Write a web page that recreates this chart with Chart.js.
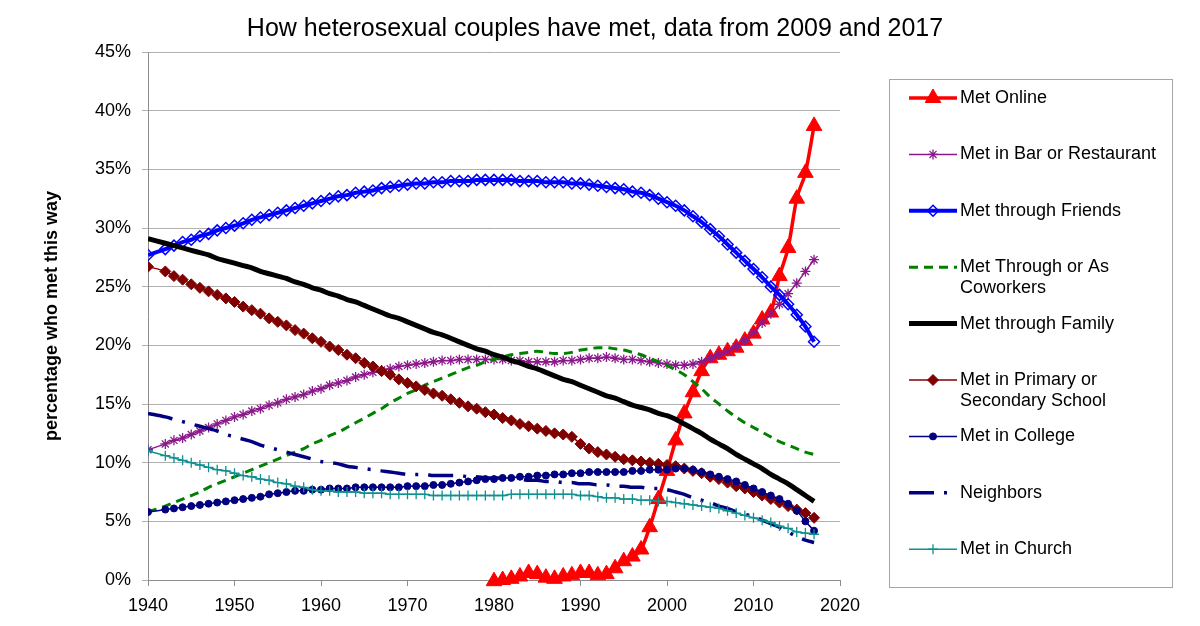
<!DOCTYPE html>
<html>
<head>
<meta charset="utf-8">
<title>How heterosexual couples have met</title>
<script src="https://cdn.jsdelivr.net/npm/chart.js@4.4.1/dist/chart.umd.min.js"></script>
<style>
    html, body { margin: 0; padding: 0; background: #ffffff; }
    #chartBox { width: 1200px; height: 626px; }
</style>
</head>
<body>
<div id="chartBox">
    <canvas id="metChart" width="1200" height="626"></canvas>
</div>
<script>
// Years of the survey curves (1941 is missing in the source)
const years = [1940,
    1942, 1943, 1944, 1945, 1946, 1947, 1948, 1949, 1950,
    1951, 1952, 1953, 1954, 1955, 1956, 1957, 1958, 1959, 1960,
    1961, 1962, 1963, 1964, 1965, 1966, 1967, 1968, 1969, 1970,
    1971, 1972, 1973, 1974, 1975, 1976, 1977, 1978, 1979, 1980,
    1981, 1982, 1983, 1984, 1985, 1986, 1987, 1988, 1989, 1990,
    1991, 1992, 1993, 1994, 1995, 1996, 1997, 1998, 1999, 2000,
    2001, 2002, 2003, 2004, 2005, 2006, 2007, 2008, 2009, 2010,
    2011, 2012, 2013, 2014, 2015, 2016, 2017];

// Met Online only starts in 1980
const onlineYears = years.filter(y => y >= 1980);

const metOnline = [-0.1,
    0.0, 0.1, 0.3, 0.6, 0.5, 0.2, 0.1, 0.3, 0.4, 0.6,
    0.6, 0.4, 0.5, 1.0, 1.6, 2.0, 2.6, 4.5, 6.9, 9.3,
    11.9, 14.2, 16.0, 17.8, 18.9, 19.2, 19.5, 19.8, 20.4, 21.0,
    22.2, 22.8, 25.9, 28.3, 32.5, 34.7, 38.7];

const metBar = [11.1,
    11.6, 11.9, 12.1, 12.4, 12.7, 13.0, 13.3, 13.6, 13.9,
    14.1, 14.4, 14.6, 14.9, 15.1, 15.4, 15.6, 15.8, 16.1, 16.3,
    16.6, 16.8, 17.0, 17.3, 17.5, 17.7, 17.9, 18.0, 18.2, 18.3,
    18.4, 18.5, 18.6, 18.7, 18.7, 18.8, 18.8, 18.8, 18.8, 18.8,
    18.8, 18.7, 18.7, 18.6, 18.6, 18.6, 18.6, 18.7, 18.7, 18.8,
    18.9, 18.9, 19.0, 18.9, 18.8, 18.8, 18.7, 18.6, 18.5, 18.4,
    18.3, 18.3, 18.4, 18.6, 18.9, 19.2, 19.5, 19.9, 20.4, 21.1,
    21.9, 22.7, 23.5, 24.4, 25.3, 26.3, 27.3];

const metFriends = [27.7,
    28.2, 28.5, 28.8, 29.0, 29.3, 29.5, 29.8, 30.0, 30.2,
    30.4, 30.7, 30.9, 31.1, 31.3, 31.5, 31.7, 31.9, 32.1, 32.3,
    32.5, 32.7, 32.8, 33.0, 33.1, 33.2, 33.4, 33.5, 33.6, 33.7,
    33.8, 33.8, 33.9, 33.9, 34.0, 34.0, 34.0, 34.1, 34.1, 34.1,
    34.1, 34.1, 34.0, 34.0, 34.0, 33.9, 33.9, 33.9, 33.8, 33.8,
    33.7, 33.6, 33.5, 33.4, 33.3, 33.1, 33.0, 32.8, 32.5, 32.2,
    31.9, 31.5, 31.0, 30.5, 29.9, 29.3, 28.6, 27.9, 27.2, 26.5,
    25.8, 25.0, 24.3, 23.5, 22.6, 21.6, 20.3];

const metCoworkers = [5.8,
    6.3, 6.6, 6.9, 7.2, 7.5, 7.9, 8.2, 8.5, 8.8,
    9.1, 9.4, 9.7, 10.0, 10.3, 10.6, 10.9, 11.2, 11.6, 11.9,
    12.3, 12.6, 13.0, 13.4, 13.8, 14.2, 14.6, 15.1, 15.5, 15.9,
    16.2, 16.6, 16.9, 17.2, 17.5, 17.8, 18.1, 18.3, 18.6, 18.8,
    19.0, 19.2, 19.3, 19.4, 19.5, 19.4, 19.3, 19.3, 19.4, 19.6,
    19.7, 19.8, 19.8, 19.7, 19.6, 19.4, 19.2, 18.9, 18.6, 18.3,
    17.9, 17.5, 16.9, 16.3, 15.6, 15.0, 14.4, 13.9, 13.4, 13.0,
    12.6, 12.2, 11.8, 11.5, 11.2, 10.9, 10.7];

const metFamily = [29.1,
    28.7, 28.5, 28.3, 28.1, 27.9, 27.7, 27.4, 27.2, 27.0,
    26.8, 26.6, 26.3, 26.1, 25.9, 25.7, 25.4, 25.2, 24.9, 24.7,
    24.4, 24.2, 23.9, 23.7, 23.4, 23.1, 22.8, 22.5, 22.3, 22.0,
    21.7, 21.4, 21.1, 20.9, 20.6, 20.3, 20.0, 19.7, 19.5, 19.2,
    19.0, 18.7, 18.5, 18.2, 18.0, 17.7, 17.4, 17.1, 16.9, 16.6,
    16.3, 16.0, 15.7, 15.5, 15.2, 14.9, 14.7, 14.5, 14.2, 14.0,
    13.7, 13.3, 12.9, 12.5, 12.0, 11.6, 11.2, 10.7, 10.3, 9.9,
    9.5, 9.0, 8.6, 8.2, 7.7, 7.2, 6.7];

const metSchool = [26.7,
    26.3, 25.9, 25.6, 25.2, 24.9, 24.6, 24.3, 24.0, 23.7,
    23.3, 23.0, 22.7, 22.3, 22.0, 21.7, 21.3, 21.0, 20.6, 20.3,
    19.9, 19.6, 19.2, 18.9, 18.5, 18.2, 17.8, 17.5, 17.1, 16.8,
    16.5, 16.2, 15.9, 15.7, 15.4, 15.1, 14.8, 14.6, 14.3, 14.1,
    13.8, 13.6, 13.3, 13.1, 12.9, 12.7, 12.5, 12.4, 12.2, 11.6,
    11.2, 10.9, 10.7, 10.5, 10.3, 10.2, 10.1, 10.0, 9.9, 9.8,
    9.7, 9.5, 9.3, 9.1, 8.8, 8.6, 8.3, 8.0, 7.8, 7.5,
    7.2, 6.9, 6.6, 6.3, 6.0, 5.7, 5.3];

const metCollege = [5.8,
    6.0, 6.1, 6.2, 6.3, 6.4, 6.5, 6.6, 6.7, 6.8,
    6.9, 7.0, 7.1, 7.3, 7.4, 7.5, 7.6, 7.6, 7.7, 7.7,
    7.8, 7.8, 7.8, 7.9, 7.9, 7.9, 7.9, 7.9, 7.9, 8.0,
    8.0, 8.0, 8.1, 8.1, 8.2, 8.3, 8.4, 8.5, 8.6, 8.6,
    8.7, 8.7, 8.8, 8.8, 8.9, 8.9, 9.0, 9.0, 9.1, 9.1,
    9.2, 9.2, 9.2, 9.2, 9.2, 9.3, 9.3, 9.4, 9.4, 9.4,
    9.5, 9.5, 9.4, 9.2, 9.0, 8.8, 8.6, 8.4, 8.1, 7.8,
    7.5, 7.2, 6.9, 6.5, 5.9, 5.0, 4.2];

const metNeighbors = [14.2,
    13.9, 13.7, 13.5, 13.3, 13.1, 12.9, 12.7, 12.4, 12.2,
    12.0, 11.8, 11.5, 11.3, 11.1, 10.9, 10.7, 10.5, 10.3, 10.1,
    10.0, 9.9, 9.7, 9.6, 9.5, 9.4, 9.3, 9.2, 9.1, 9.0,
    9.0, 9.0, 8.9, 8.9, 8.9, 8.9, 8.8, 8.8, 8.7, 8.7,
    8.7, 8.6, 8.6, 8.5, 8.5, 8.4, 8.4, 8.3, 8.3, 8.2,
    8.2, 8.1, 8.1, 8.0, 8.0, 7.9, 7.9, 7.8, 7.8, 7.7,
    7.5, 7.3, 7.0, 6.8, 6.6, 6.3, 6.1, 5.8, 5.6, 5.4,
    5.1, 4.8, 4.5, 4.1, 3.7, 3.4, 3.2];

const metChurch = [11.0,
    10.6, 10.4, 10.2, 10.0, 9.8, 9.6, 9.4, 9.3, 9.1,
    8.9, 8.8, 8.6, 8.5, 8.3, 8.2, 8.0, 7.9, 7.7, 7.6,
    7.6, 7.5, 7.5, 7.5, 7.4, 7.4, 7.4, 7.3, 7.3, 7.3,
    7.3, 7.3, 7.2, 7.2, 7.2, 7.2, 7.2, 7.2, 7.2, 7.2,
    7.2, 7.3, 7.3, 7.3, 7.3, 7.3, 7.3, 7.3, 7.3, 7.2,
    7.2, 7.1, 7.0, 7.0, 6.9, 6.9, 6.8, 6.8, 6.7, 6.7,
    6.6, 6.5, 6.4, 6.3, 6.2, 6.1, 5.9, 5.7, 5.5, 5.3,
    5.1, 4.9, 4.6, 4.4, 4.1, 4.0, 3.9];

// Axis ticks
const xTicks = [1940, 1950, 1960, 1970, 1980, 1990, 2000, 2010, 2020];
const yTicks = [0, 5, 10, 15, 20, 25, 30, 35, 40, 45];

const chartTitle = 'How heterosexual couples have met, data from 2009 and 2017';

const FONT = "'Liberation Sans', Arial, Helvetica, sans-serif";

// Turn two arrays into {x, y} points for the linear x axis
function toPoints(xs, ys) {
    return xs.map((x, i) => ({ x: x, y: ys[i] }));
}

// Title centred over the whole picture (chart + legend)
const wideTitle = {
    id: 'wideTitle',
    afterDraw(chart) {
        const ctx = chart.ctx;
        ctx.save();
        ctx.font = '25px ' + FONT;
        ctx.fillStyle = '#000000';
        ctx.textAlign = 'center';
        ctx.textBaseline = 'alphabetic';
        ctx.fillText(chartTitle, 595, 36);
        ctx.restore();
    }
};

// Legend drawn inside a grey box on the right, like the original
const boxLegend = {
    id: 'boxLegend',
    afterDraw(chart) {
        const ctx = chart.ctx;
        ctx.save();
        ctx.strokeStyle = '#a6a6a6';
        ctx.lineWidth = 1;
        ctx.strokeRect(889.5, 79.5, 283, 508);

        ctx.font = '18px ' + FONT;
        ctx.textBaseline = 'middle';
        ctx.textAlign = 'left';

        chart.data.datasets.forEach((ds, i) => {
            const y = 98 + i * 56.4;

            // line sample
            ctx.save();
            ctx.strokeStyle = ds.borderColor;
            ctx.lineWidth = ds.borderWidth;
            ctx.lineCap = 'butt';
            ctx.setLineDash(ds.borderDash || []);
            ctx.beginPath();
            ctx.moveTo(909, y);
            ctx.lineTo(957, y);
            ctx.stroke();
            ctx.restore();

            // marker
            if (ds.pointRadius > 0) {
                ctx.save();
                ctx.fillStyle = ds.pointBackgroundColor;
                ctx.strokeStyle = ds.pointBorderColor;
                ctx.lineWidth = ds.pointBorderWidth;
                Chart.helpers.drawPoint(ctx, {
                    pointStyle: ds.pointStyle,
                    radius: ds.pointRadius,
                    borderWidth: ds.pointBorderWidth,
                    rotation: 0
                }, 933, y);
                ctx.restore();
            }

            // label, wrapped to the box width
            ctx.fillStyle = '#000000';
            const words = ds.label.split(' ');
            const lines = [];
            let line = '';
            words.forEach(w => {
                const test = line ? line + ' ' + w : w;
                if (ctx.measureText(test).width > 205 && line) {
                    lines.push(line);
                    line = w;
                } else {
                    line = test;
                }
            });
            lines.push(line);
            lines.forEach((t, k) => ctx.fillText(t, 960, y + k * 21));
        });
        ctx.restore();
    }
};

function renderChart() {
    const ctx = document.getElementById('metChart').getContext('2d');

    const datasets = [
        {
            label: 'Met Online',
            data: toPoints(onlineYears, metOnline),
            borderColor: '#ff0000', borderWidth: 3.5,
            pointStyle: 'triangle', pointRadius: 9,
            pointBackgroundColor: '#ff0000', pointBorderColor: '#ff0000', pointBorderWidth: 1,
            clip: false
        },
        {
            label: 'Met in Bar or Restaurant',
            data: toPoints(years, metBar),
            borderColor: '#8b188b', borderWidth: 1.5,
            pointStyle: 'star', pointRadius: 5,
            pointBackgroundColor: 'rgba(0,0,0,0)', pointBorderColor: '#8b188b', pointBorderWidth: 1.3
        },
        {
            label: 'Met through Friends',
            data: toPoints(years, metFriends),
            borderColor: '#0000ff', borderWidth: 4,
            pointStyle: 'rectRot', pointRadius: 5.5,
            pointBackgroundColor: 'rgba(0,0,0,0)', pointBorderColor: '#0000ff', pointBorderWidth: 1.5
        },
        {
            label: 'Met Through or As Coworkers',
            data: toPoints(years, metCoworkers),
            borderColor: '#008000', borderWidth: 3, borderDash: [9, 6],
            pointRadius: 0,
            pointBackgroundColor: '#008000', pointBorderColor: '#008000', pointBorderWidth: 0
        },
        {
            label: 'Met through Family',
            data: toPoints(years, metFamily),
            borderColor: '#000000', borderWidth: 5,
            pointRadius: 0,
            pointBackgroundColor: '#000000', pointBorderColor: '#000000', pointBorderWidth: 0
        },
        {
            label: 'Met in Primary or Secondary School',
            data: toPoints(years, metSchool),
            borderColor: '#800000', borderWidth: 1.5,
            pointStyle: 'rectRot', pointRadius: 5.5,
            pointBackgroundColor: '#800000', pointBorderColor: '#800000', pointBorderWidth: 1
        },
        {
            label: 'Met in College',
            data: toPoints(years, metCollege),
            borderColor: '#000080', borderWidth: 1.5,
            pointStyle: 'circle', pointRadius: 3.5,
            pointBackgroundColor: '#000080', pointBorderColor: '#000080', pointBorderWidth: 1
        },
        {
            label: 'Neighbors',
            data: toPoints(years, metNeighbors),
            borderColor: '#000080', borderWidth: 3.5, borderDash: [25, 10, 3, 10],
            pointRadius: 0,
            pointBackgroundColor: '#000080', pointBorderColor: '#000080', pointBorderWidth: 0
        },
        {
            label: 'Met in Church',
            data: toPoints(years, metChurch),
            borderColor: '#109090', borderWidth: 1.5,
            pointStyle: 'cross', pointRadius: 5,
            pointBackgroundColor: 'rgba(0,0,0,0)', pointBorderColor: '#109090', pointBorderWidth: 1.3
        }
    ];

    // later series sit on top, as in the spreadsheet
    datasets.forEach((ds, i) => {
        ds.order = datasets.length - i;
        ds.borderCapStyle = 'butt';
        ds.cubicInterpolationMode = 'monotone';
        ds.fill = false;
    });

    new Chart(ctx, {
        type: 'line',
        data: { datasets: datasets },
        options: {
            responsive: false,
            maintainAspectRatio: false,
            animation: false,
            devicePixelRatio: 1,
            layout: { padding: { top: 52, right: 360 } },
            plugins: {
                legend: { display: false },
                tooltip: { enabled: false },
                title: { display: false }
            },
            scales: {
                x: {
                    type: 'linear',
                    min: 1940,
                    max: 2020,
                    afterFit: scale => { scale.height = 46; },
                    afterBuildTicks: scale => { scale.ticks = xTicks.map(v => ({ value: v })); },
                    ticks: {
                        color: '#000000',
                        font: { family: FONT, size: 18 },
                        padding: 9,
                        maxRotation: 0,
                        callback: v => String(v)
                    },
                    grid: { drawOnChartArea: false, drawTicks: true, tickLength: 6, color: '#8c8c8c' },
                    border: { display: true, color: '#8c8c8c' }
                },
                y: {
                    min: 0,
                    max: 45,
                    afterFit: scale => { scale.width = 148; },
                    afterBuildTicks: scale => { scale.ticks = yTicks.map(v => ({ value: v })); },
                    ticks: {
                        color: '#000000',
                        font: { family: FONT, size: 18 },
                        padding: 11,
                        callback: v => v + '%'
                    },
                    grid: { color: '#b0b0b0', lineWidth: 1, drawTicks: true, tickLength: 6 },
                    border: { display: true, color: '#8c8c8c' },
                    title: {
                        display: true,
                        text: 'percentage who met this way',
                        color: '#000000',
                        font: { family: FONT, size: 18, weight: 'bold' },
                        padding: { top: 41, bottom: 0 }
                    }
                }
            }
        },
        plugins: [wideTitle, boxLegend]
    });
}

document.addEventListener('DOMContentLoaded', renderChart);
</script>
</body>
</html>
